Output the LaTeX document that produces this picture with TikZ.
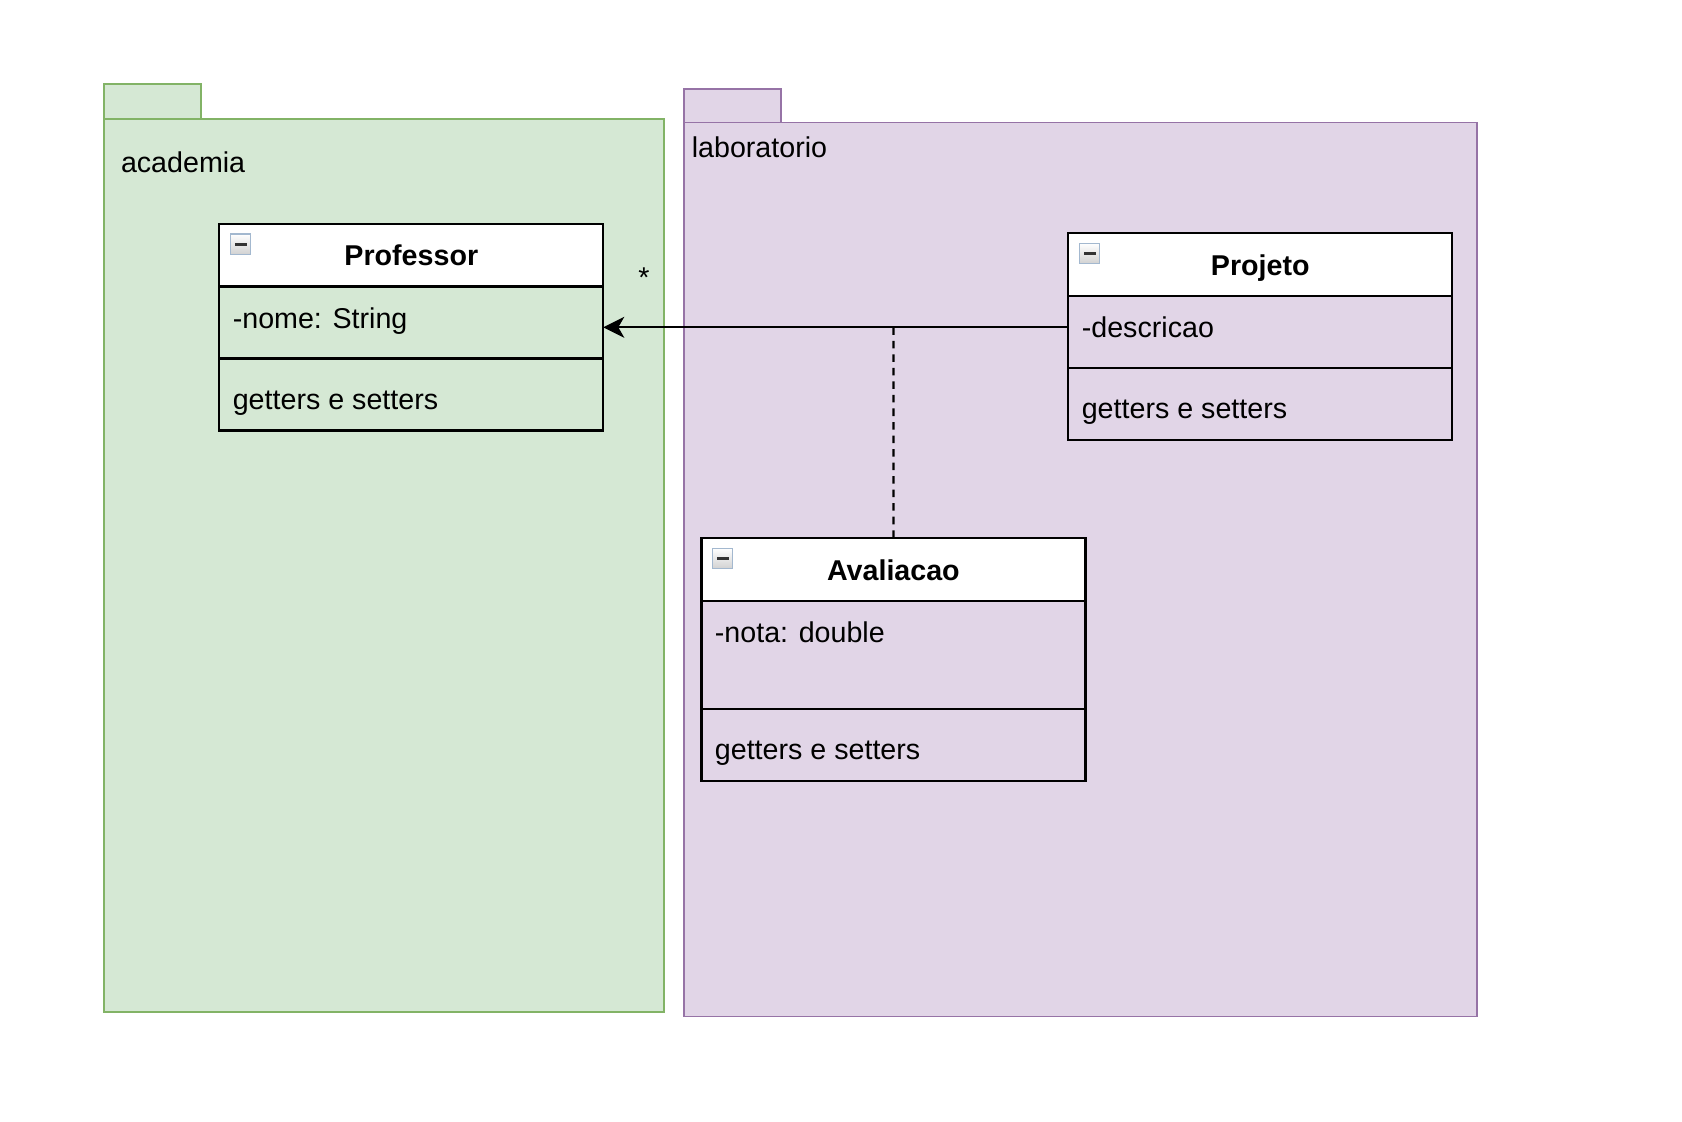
\documentclass[tikz,border=0pt]{standalone}
\usepackage{fontspec}
\setmainfont{Liberation Sans}
\usetikzlibrary{arrows.meta}
\definecolor{pkggreen}{HTML}{D5E8D4}
\definecolor{pkggreenline}{HTML}{82B366}
\definecolor{pkgpurple}{HTML}{E1D5E7}
\definecolor{pkgpurpleline}{HTML}{9673A6}
\definecolor{iconline}{HTML}{A3B8CF}
\tikzset{
  every node/.style={font=\fontsize{16.3}{19}\selectfont, inner sep=0pt, outer sep=0pt},
  pkggreenbox/.style={rectangle, draw=pkggreenline, fill=pkggreen, line width=1.1pt},
  pkgpurplebox/.style={rectangle, draw=pkgpurpleline, fill=pkgpurple, line width=1.1pt},
  classhead/.style={rectangle, draw, fill=white, line width=1.25pt, minimum width=7.68cm, minimum height=1.25cm, anchor=north west},
  classbody/.style={rectangle, draw, line width=1.25pt, minimum width=7.68cm, anchor=north},
  classtitle/.style={anchor=base, font=\fontsize{16.3}{19}\selectfont\bfseries},
  classtext/.style={anchor=base west},
  minusicon/.style={rectangle, draw=iconline, line width=0.6pt, top color=white, bottom color=black!18,
    minimum size=0.41cm, anchor=north west,
    path picture={\fill[black!80] ([shift={(-0.12,-0.03)}]path picture bounding box.center) rectangle ([shift={(0.12,0.03)}]path picture bounding box.center);}},
}
\begin{document}
\begin{tikzpicture}
    \useasboundingbox (0,0) rectangle (33.64,22.44);

    % packages
    \node[pkggreenbox, minimum width=1.94cm, minimum height=0.69cm] (AcademiaTab) at (3.05,20.41) {};
    \node[pkggreenbox, minimum width=11.2cm, minimum height=17.87cm] (Academia) at (7.68,11.13) {};
    \node[anchor=base west] (AcademiaName) at (2.42,18.98) {academia};
    \node[pkgpurplebox, minimum width=1.93cm, minimum height=0.67cm] (LaboratorioTab) at (14.65,20.32) {};
    \node[pkgpurplebox, minimum width=15.85cm, minimum height=17.88cm] (Laboratorio) at (21.61,11.05) {};
    \node[anchor=base west] (LaboratorioName) at (13.836,19.286) {laboratorio};

    % Professor
    \node[classhead] (ProfessorHead) at (4.386,17.96) {};
    \node[classbody, minimum height=1.44cm] (ProfessorAttr) at (ProfessorHead.south) {};
    \node[classbody, minimum height=1.44cm] (ProfessorOps) at (ProfessorAttr.south) {};
    \node[minusicon] (ProfessorIcon) at ([shift={(0.22,-0.2)}]ProfessorHead.north west) {};
    \node[classtitle] (ProfessorTitle) at ([yshift=-0.84cm]ProfessorHead.north) {Professor};
    \node[classtext] (ProfessorNome) at ([shift={(0.27,-0.84)}]ProfessorAttr.north west) {-nome: String};
    \node[classtext] (ProfessorMetodos) at ([shift={(0.27,-1.02)}]ProfessorOps.north west) {getters e setters};

    % Projeto
    \node[classhead] (ProjetoHead) at (21.366,17.774) {};
    \node[classbody, minimum height=1.44cm] (ProjetoAttr) at (ProjetoHead.south) {};
    \node[classbody, minimum height=1.44cm] (ProjetoOps) at (ProjetoAttr.south) {};
    \node[minusicon] (ProjetoIcon) at ([shift={(0.22,-0.2)}]ProjetoHead.north west) {};
    \node[classtitle] (ProjetoTitle) at ([yshift=-0.84cm]ProjetoHead.north) {Projeto};
    \node[classtext] (ProjetoDescricao) at ([shift={(0.27,-0.84)}]ProjetoAttr.north west) {-descricao};
    \node[classtext] (ProjetoMetodos) at ([shift={(0.27,-1.02)}]ProjetoOps.north west) {getters e setters};

    % Avaliacao
    \node[classhead] (AvaliacaoHead) at (14.028,11.674) {};
    \node[classbody, minimum height=2.16cm] (AvaliacaoAttr) at (AvaliacaoHead.south) {};
    \node[classbody, minimum height=1.45cm] (AvaliacaoOps) at (AvaliacaoAttr.south) {};
    \node[minusicon] (AvaliacaoIcon) at ([shift={(0.22,-0.2)}]AvaliacaoHead.north west) {};
    \node[classtitle] (AvaliacaoTitle) at ([yshift=-0.84cm]AvaliacaoHead.north) {Avaliacao};
    \node[classtext] (AvaliacaoNota) at ([shift={(0.27,-0.84)}]AvaliacaoAttr.north west) {-nota: double};
    \node[classtext] (AvaliacaoMetodos) at ([shift={(0.27,-1.02)}]AvaliacaoOps.north west) {getters e setters};

    % association
    \coordinate (Assoc) at (17.87,15.894);
    \draw[-{Stealth[length=0.42cm,width=0.42cm,inset=0.12cm]}, line width=1.25pt] (ProjetoAttr.west |- Assoc) -- (ProfessorAttr.east |- Assoc);
    \draw[line width=1.25pt, dash pattern=on 4.3pt off 3.4pt] (Assoc) -- (AvaliacaoHead.north);
    \node[anchor=base] (Mult) at (12.88,16.68) {*};
\end{tikzpicture}
\end{document}
